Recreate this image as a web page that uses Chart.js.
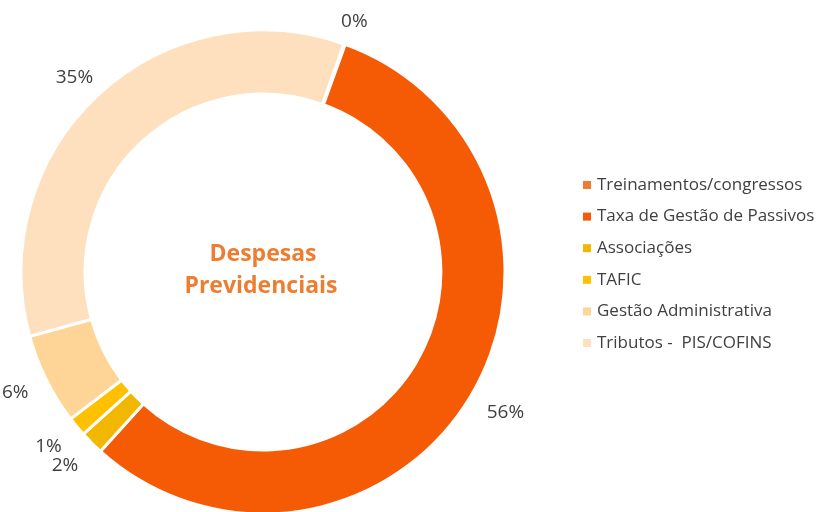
<!DOCTYPE html>
<html>
<head>
<meta charset="utf-8">
<script src="https://cdn.jsdelivr.net/npm/chart.js@4"></script>
<style>
  body { margin: 0; background: #fff; }
  #wrap { width: 818px; height: 512px; position: relative; }
</style>
</head>
<body>
<div id="wrap"><canvas id="pieChart"></canvas></div>
<script>
const categories = ['Treinamentos/congressos', 'Taxa de Gestão de Passivos', 'Associações', 'TAFIC', 'Gestão Administrativa', 'Tributos -  PIS/COFINS'];
const shares = [0.1, 56.2, 1.6, 1.3, 6.1, 34.7];
const colors = ['#ED7D31', '#F55A05', '#F2B700', '#FFC000', '#FFD597', '#FFE0BE'];
const centerTitle = ['Despesas', 'Previdenciais'];

const FONT = '"Open Sans", sans-serif';
const TEXT = '#404040';

// percentage labels outside each slice
const outerLabels = {
    id: 'outerLabels',
    afterDatasetsDraw(chart) {
        const c = chart.ctx;
        const meta = chart.getDatasetMeta(0);
        const total = shares.reduce((a, b) => a + b, 0);
        c.save();
        c.font = '19px ' + FONT;
        c.fillStyle = TEXT;
        c.textAlign = 'center';
        c.textBaseline = 'middle';
        meta.data.forEach((arc, i) => {
            const p = arc.getProps(['x', 'y', 'startAngle', 'endAngle', 'outerRadius'], true);
            const mid = (p.startAngle + p.endAngle) / 2;
            const dx = Math.cos(mid), dy = Math.sin(mid);
            const txt = Math.round(shares[i] / total * 100) + '%';
            const w = c.measureText(txt).width;
            const r = p.outerRadius + 16 + 12 * Math.max(dy, 0);
            const x = p.x + dx * r + dx * w / 2;
            const y = p.y + dy * r + dy * 8;
            c.fillText(txt, x, y);
        });
        c.restore();
    }
};

const centerText = {
    id: 'centerText',
    afterDraw(chart) {
        const c = chart.ctx;
        const arc = chart.getDatasetMeta(0).data[0];
        c.save();
        c.font = 'bold 23px ' + FONT;
        c.fillStyle = '#ED7D31';
        c.textAlign = 'center';
        c.textBaseline = 'alphabetic';
        c.fillText(centerTitle[0], arc.x, 261);
        c.fillText(centerTitle[1], arc.x - 2, 293);
        c.restore();
    }
};

const sideLegend = {
    id: 'sideLegend',
    afterDraw(chart) {
        const c = chart.ctx;
        c.save();
        c.font = '17px ' + FONT;
        c.textBaseline = 'middle';
        c.textAlign = 'left';
        categories.forEach((name, i) => {
            const y = 185 + i * 31.6;
            c.fillStyle = colors[i];
            c.fillRect(583, y - 4, 8, 8);
            c.fillStyle = TEXT;
            c.fillText(name, 597, y);
        });
        c.restore();
    }
};

const ctx = document.getElementById('pieChart').getContext('2d');
const pieChart = new Chart(ctx, {
    type: 'doughnut',
    data: {
        labels: categories,
        datasets: [{
            data: shares,
            backgroundColor: colors,
            borderColor: '#ffffff',
            borderWidth: 3
        }]
    },
    options: {
        responsive: true,
        maintainAspectRatio: false,
        animation: false,
        rotation: 19.5,
        radius: 242,
        cutout: '73.5%',
        layout: { padding: { top: 32, right: 292, left: 0, bottom: 0 } },
        plugins: {
            legend: { display: false },
            tooltip: { enabled: false }
        }
    },
    plugins: [outerLabels, centerText, sideLegend]
})
</script>
</body>
</html>
